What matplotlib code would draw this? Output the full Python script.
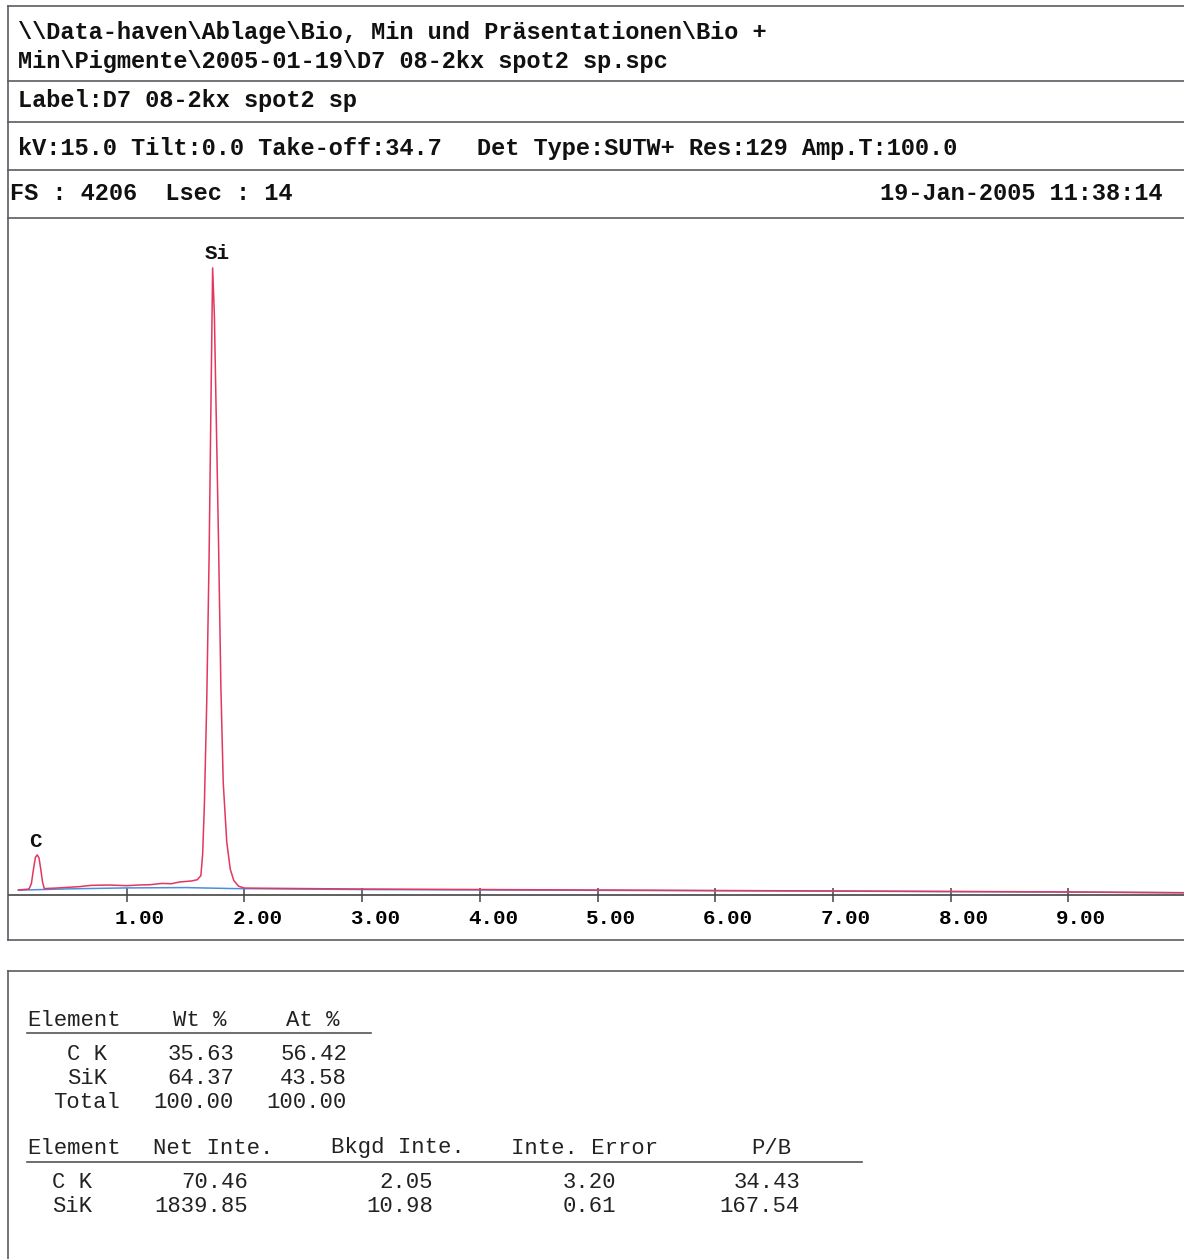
import numpy as np
import matplotlib.pyplot as plt
from matplotlib.transforms import ScaledTranslation

# spectrum (energy in keV, counts)
energy_kev = [0.08, 0.17, 0.19, 0.21, 0.225, 0.24, 0.255, 0.27, 0.285, 0.30, 0.40, 0.60,
              0.70, 0.85, 1.00, 1.10, 1.20, 1.30, 1.38, 1.45, 1.55, 1.60, 1.63, 1.645,
              1.66, 1.68, 1.70, 1.715, 1.73, 1.745, 1.76, 1.78, 1.80, 1.82, 1.85, 1.88,
              1.91, 1.95, 2.00, 2.50, 3.00, 4.00, 5.00, 6.00, 7.00, 8.00, 9.00, 10.00]
counts = [31, 37, 70, 170, 235, 249, 230, 160, 80, 40, 43, 52,
          60, 62, 58, 62, 64, 72, 70, 81, 87, 95, 120, 250,
          560, 1200, 2100, 3000, 3896, 3600, 3000, 2200, 1300, 700, 330, 160,
          90, 55, 43, 40, 37, 34, 31, 28, 25, 22, 19, 14]

bkg_kev = [0.08, 0.50, 1.00, 1.50, 1.90, 3.00, 5.00, 7.00, 9.00, 10.00]
bkg_counts = [30, 38, 44, 46, 40, 34, 29, 24, 18, 14]

peak_labels = ["C", "Si"]
peak_pos = [0.22, 1.77]
peak_height = [330, 3985]

full_scale = 4206
x_ticks = [1, 2, 3, 4, 5, 6, 7, 8, 9]

header_lines = [
    "\\\\Data-haven\\Ablage\\Bio, Min und Präsentationen\\Bio +",
    "Min\\Pigmente\\2005-01-19\\D7 08-2kx spot2 sp.spc",
]
label_line = "Label:D7 08-2kx spot2 sp"
kv_left = "kV:15.0 Tilt:0.0 Take-off:34.7"
kv_right = "Det Type:SUTW+ Res:129 Amp.T:100.0"
fs_line = "FS : 4206  Lsec : 14"
date_line = "19-Jan-2005 11:38:14"

quant_elements = ["C K", "SiK", "Total"]
wt_pct = ["35.63", "64.37", "100.00"]
at_pct = ["56.42", "43.58", "100.00"]

int_elements = ["C K", "SiK"]
net_inte = ["70.46", "1839.85"]
bkgd_inte = ["2.05", "10.98"]
inte_error = ["3.20", "0.61"]
p_b = ["34.43", "167.54"]

W, H = 1184, 1259
fig = plt.figure(figsize=(W / 100, H / 100), dpi=100)

# page background axes in pixel coordinates for frames and text
bg = fig.add_axes([0, 0, 1, 1])
bg.set_xlim(0, W)
bg.set_ylim(H, 0)
bg.axis("off")

frame_col = "#5e5a62"
for y in [6, 81, 122, 170, 218, 940]:
    bg.plot([8, W], [y, y], color=frame_col, lw=1.2)
bg.plot([8, 8], [6, 940], color=frame_col, lw=1.2)
bg.plot([8, W], [971, 971], color=frame_col, lw=1.2)
bg.plot([8, 8], [971, H], color=frame_col, lw=1.2)

mono = "Liberation Mono"
hdr = dict(family=mono, weight="bold", fontsize=17, va="center", color="#111111")
bg.text(18, 32, header_lines[0], **hdr)
bg.text(18, 61, header_lines[1], **hdr)
bg.text(18, 100, label_line, **hdr)
bg.text(18, 148, kv_left, **hdr)
bg.text(477, 148, kv_right, **hdr)
bg.text(10, 193, fs_line, **hdr)
bg.text(1162, 193, date_line, ha="right", **hdr)

# quantification tables
tab = dict(family=mono, fontsize=16, va="center", color="#222222")
bg.text(27, 1020, "Element", **tab)
bg.text(200, 1020, "Wt %", ha="center", **tab)
bg.text(313, 1020, "At %", ha="center", **tab)
bg.plot([27, 371], [1033, 1033], color="#555555", lw=1.2)
for i, el in enumerate(quant_elements):
    yy = 1055 + i * 23.5
    bg.text(87, yy, el, ha="center", **tab)
    bg.text(234, yy, wt_pct[i], ha="right", **tab)
    bg.text(347, yy, at_pct[i], ha="right", **tab)

bg.text(27, 1148, "Element", **tab)
bg.text(153, 1148, "Net Inte.", **tab)
bg.text(331, 1148, "Bkgd Inte.", **tab)
bg.text(511, 1148, "Inte. Error", **tab)
bg.text(771, 1148, "P/B", ha="center", **tab)
bg.plot([27, 862], [1162, 1162], color="#555555", lw=1.2)
for i, el in enumerate(int_elements):
    yy = 1183 + i * 23.5
    bg.text(72, yy, el, ha="center", **tab)
    bg.text(248, yy, net_inte[i], ha="right", **tab)
    bg.text(433, yy, bkgd_inte[i], ha="right", **tab)
    bg.text(616, yy, inte_error[i], ha="right", **tab)
    bg.text(800, yy, p_b[i], ha="right", **tab)

# spectrum axes
ax = fig.add_axes([9 / W, (H - 895) / H, 1177 / W, 677 / H])
ax.patch.set_alpha(0)
ax.set_xlim(0, 10)
ax.set_ylim(0, full_scale)
for s in ["left", "right", "top"]:
    ax.spines[s].set_visible(False)
ax.spines["bottom"].set_color("#444444")
ax.spines["bottom"].set_linewidth(1.2)
ax.set_yticks([])

ax.plot(bkg_kev, bkg_counts, color="#4a8fdc", lw=1.1)
ax.plot(energy_kev, counts, color="#e2375f", lw=1.1)

for lab, xp, yp in zip(peak_labels, peak_pos, peak_height):
    ax.text(xp, yp, lab, ha="center", va="center", family=mono,
            weight="bold", fontsize=15, color="#111111")

ax.set_xticks(x_ticks)
ax.set_xticklabels([f"{t:.2f}" for t in x_ticks])
ax.tick_params(axis="x", direction="inout", length=10, width=1.1,
               color="#444444", pad=5, labelsize=15)
for lbl in ax.get_xticklabels():
    lbl.set_fontfamily(mono)
    lbl.set_fontweight("bold")
    lbl.set_transform(lbl.get_transform() +
                      ScaledTranslation(13 / 100, 0, fig.dpi_scale_trans))

fig.savefig("out.png", dpi=100, facecolor="white")
